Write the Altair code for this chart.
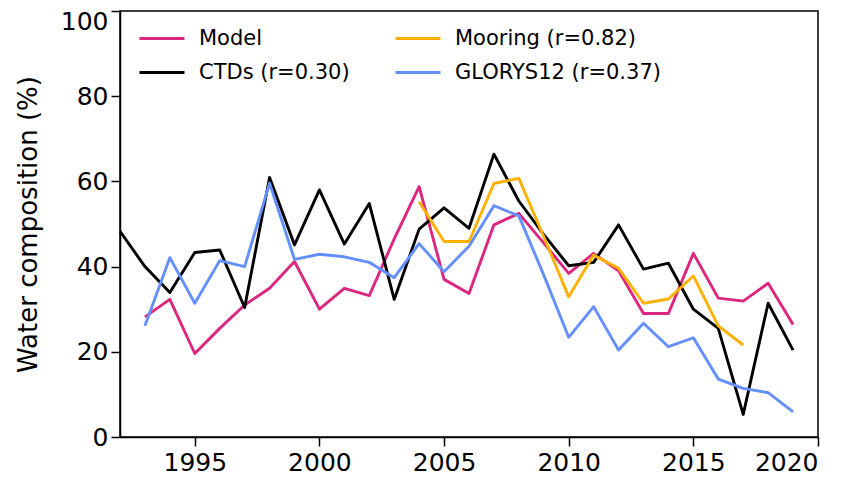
import altair as alt
import pandas as pd
import numpy as np

years = list(range(1992, 2020))

model = [np.nan, 28.2, 32.3, 19.6, 25.5, 31.0, 34.9, 41.2, 30.0, 34.9, 33.2, 46.5, 58.8,
         37.0, 33.7, 49.8, 52.5, 45.5, 38.4, 43.1, 39.0, 29.0, 29.0, 43.1, 32.6, 31.9, 36.1, 26.4]
ctds = [48.3, 40.0, 33.9, 43.3, 43.9, 30.4, 60.9, 45.1, 58.0, 45.3, 54.8, 32.3, 48.8,
        53.8, 49.0, 66.4, 55.4, 47.5, 40.2, 41.0, 49.8, 39.4, 40.8, 30.0, 25.5, 5.3, 31.4, 20.4]
mooring = [np.nan] * 12 + [55.2, 45.9, 45.9, 59.5, 60.7, 47.0, 32.9, 42.7, 39.6, 31.4,
                           32.4, 37.8, 26.1, 21.6, np.nan, np.nan]
glorys = [np.nan, 26.1, 42.1, 31.4, 41.4, 40.0, 59.6, 41.7, 42.9, 42.3, 41.0, 37.4, 45.4,
          38.8, 44.8, 54.3, 51.9, 38.0, 23.4, 30.6, 20.4, 26.7, 21.2, 23.3, 13.6, 11.4, 10.4, 5.9]

series_names = ["Model", "CTDs (r=0.30)", "Mooring (r=0.82)", "GLORYS12 (r=0.37)"]
series_vals = [model, ctds, mooring, glorys]
series_colors = ["#DC267F", "#000000", "#FFB000", "#648FFF"]

rows = []
for i, (name, vals) in enumerate(zip(series_names, series_vals)):
    for y, v in zip(years, vals):
        if not np.isnan(v):
            rows.append({"year": y, "value": v, "series": name, "ord": i})
df = pd.DataFrame(rows)

FONT = "DejaVu Sans"

chart = alt.Chart(df).mark_line(strokeWidth=2.9, strokeJoin="round").encode(
    x=alt.X("year:Q", scale=alt.Scale(domain=[1992, 2020], nice=False, zero=False),
            axis=alt.Axis(values=[1995, 2000, 2005, 2010, 2015, 2020], format="d", title=None,
                          labelPadding=4)),
    y=alt.Y("value:Q", scale=alt.Scale(domain=[0, 100], nice=False),
            axis=alt.Axis(values=[0, 20, 40, 60, 80, 100], title="Water composition (%)",
                          labelPadding=3,
                          labelOffset={"expr": "datum.value == 100 ? 10.5 : 0"})),
    color=alt.Color("series:N", sort=series_names,
                    scale=alt.Scale(domain=series_names, range=series_colors),
                    legend=alt.Legend(title=None, orient="none", legendX=18, legendY=3.5,
                                      columns=2, symbolType="stroke", symbolSize=2025,
                                      symbolStrokeWidth=2.9, labelFontSize=21,
                                      labelFont=FONT, labelColor="black", labelOffset=13,
                                      rowPadding=-19, columnPadding=39, labelLimit=400,
                                      gridAlign="each")),
    detail="ord:O",
    order="ord:Q",
).properties(
    width=698, height=426,
    autosize=alt.AutoSizeParams(type="none"),
    padding={"left": 112, "top": 3, "right": 20, "bottom": 40},
).configure_axis(
    grid=False, domainColor="black", domainWidth=1.5, tickColor="black", tickWidth=1.5,
    tickSize=9, labelFontSize=25, labelFont=FONT, labelColor="black",
    titleFont=FONT, titleFontSize=26, titleFontWeight="normal", titleColor="black",
).configure_axisY(titlePadding=19).configure_view(stroke="black", strokeWidth=1.5)

chart.save("out.html", embed_options={"renderer": "svg", "actions": False})
